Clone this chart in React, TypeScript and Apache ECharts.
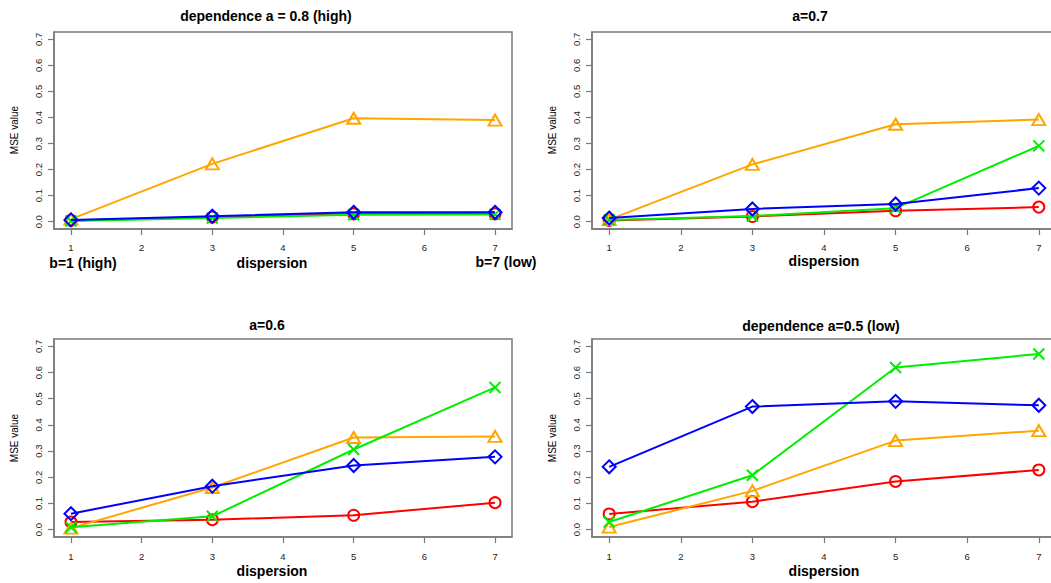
import React, { useEffect, useRef } from "react";
import * as echarts from "echarts";

const dispersion = [1, 3, 5, 7];
const xTicks = [1, 2, 3, 4, 5, 6, 7];
const yTicks = [0, 0.1, 0.2, 0.3, 0.4, 0.5, 0.6, 0.7];

const panelTitles = ["dependence a = 0.8 (high)", "a=0.7", "a=0.6", "dependence a=0.5 (low)"];

// a = 0.8
const redA08 = [0.005, 0.018, 0.030, 0.030];
const orangeA08 = [0.010, 0.222, 0.397, 0.390];
const greenA08 = [0.003, 0.014, 0.027, 0.028];
const blueA08 = [0.007, 0.021, 0.036, 0.036];
// a = 0.7
const redA07 = [0.005, 0.020, 0.042, 0.056];
const orangeA07 = [0.008, 0.220, 0.374, 0.392];
const greenA07 = [0.007, 0.022, 0.052, 0.291];
const blueA07 = [0.014, 0.049, 0.068, 0.129];
// a = 0.6
const redA06 = [0.029, 0.038, 0.055, 0.103];
const orangeA06 = [0.006, 0.161, 0.352, 0.356];
const greenA06 = [0.009, 0.051, 0.306, 0.543];
const blueA06 = [0.061, 0.166, 0.245, 0.278];
// a = 0.5
const redA05 = [0.060, 0.107, 0.184, 0.228];
const orangeA05 = [0.010, 0.148, 0.340, 0.378];
const greenA05 = [0.029, 0.208, 0.619, 0.671];
const blueA05 = [0.240, 0.470, 0.490, 0.475];

const panelData = [
  [redA08, orangeA08, greenA08, blueA08],
  [redA07, orangeA07, greenA07, blueA07],
  [redA06, orangeA06, greenA06, blueA06],
  [redA05, orangeA05, greenA05, blueA05],
];

const FONT = "'Liberation Sans', Arial, Helvetica, sans-serif";
const AXIS_COLOR = "#7a7a7a";

const seriesStyles = [
  { name: "red", color: "#FF0000", symbol: "circle", size: [11, 11] },
  { name: "orange", color: "#FFA500", symbol: "triangle", size: [13, 11] },
  { name: "green", color: "#00EE00", symbol: "path://M0,0L10,10M10,0L0,10", size: [11, 11] },
  { name: "blue", color: "#0000FF", symbol: "diamond", size: [13, 13] },
];

const grids: any[] = [
  { left: 54, top: 32, width: 458, height: 197 },
  { left: 592, top: 32, width: 464, height: 197 },
  { left: 54, top: 339, width: 458, height: 198 },
  { left: 592, top: 339, width: 464, height: 198 },
];

export default function App() {
  const ref = useRef<HTMLDivElement>(null);
  useEffect(() => {
    if (!ref.current) return;
    const chart = echarts.init(ref.current, null, { renderer: "svg" });

    const xAxes = grids.map((g, i) => ({
      gridIndex: i,
      type: "value",
      min: 0.76,
      max: 7.24,
      axisLine: { show: true, onZero: false, lineStyle: { color: AXIS_COLOR, width: 1.5 } },
      axisTick: { show: true, length: 6, customValues: xTicks, lineStyle: { color: AXIS_COLOR, width: 1.2 } },
      axisLabel: {
        customValues: xTicks,
        fontSize: 9.5,
        color: "#222",
        fontFamily: FONT,
        margin: i < 2 ? 13 : 14,
        formatter: (v: number) => String(Math.round(v)),
      },
      splitLine: { show: false },
    }));

    const yAxes = grids.map((g, i) => ({
      gridIndex: i,
      type: "value",
      min: -0.028,
      max: 0.728,
      axisLine: { show: true, onZero: false, lineStyle: { color: AXIS_COLOR, width: 1.5 } },
      axisTick: { show: true, length: 6, customValues: yTicks, lineStyle: { color: AXIS_COLOR, width: 1.2 } },
      axisLabel: {
        customValues: yTicks,
        rotate: 90,
        fontSize: 9.5,
        color: "#222",
        fontFamily: FONT,
        margin: 11,
        formatter: (v: number) => v.toFixed(1),
      },
      splitLine: { show: false },
    }));

    const series: any[] = [];
    panelData.forEach((panel, p) => {
      panel.forEach((vals, s) => {
        const st = seriesStyles[s];
        series.push({
          type: "line",
          name: st.name,
          xAxisIndex: p,
          yAxisIndex: p,
          data: dispersion.map((x, j) => [x, vals[j]]),
          symbol: st.symbol,
          symbolSize: st.size,
          showAllSymbol: true,
          lineStyle: { color: st.color, width: 2 },
          itemStyle: { color: "rgba(255,255,255,0)", borderColor: st.color, borderWidth: 2 },
          emphasis: { disabled: true },
          z: 2 + s,
        });
      });
    });

    const titlePos = [
      [266, 16],
      [810, 16],
      [267, 325],
      [821, 326],
    ];
    const dispPos = [
      [272, 263],
      [824, 261],
      [272, 571],
      [824, 571],
    ];
    const msePos = [
      [14, 130],
      [552, 130],
      [14, 438],
      [552, 438],
    ];

    const txt = (x: number, y: number, text: string, size: number, bold: boolean, rot = 0) => ({
      type: "text",
      x,
      y,
      rotation: rot,
      style: {
        text,
        fontSize: size,
        fontWeight: bold ? "bold" : "normal",
        fontFamily: FONT,
        fill: "#000",
        align: "center",
        verticalAlign: "middle",
        textAlign: "center",
        textVerticalAlign: "middle",
      },
    });

    const graphics: any[] = [];
    panelTitles.forEach((t, i) => graphics.push(txt(titlePos[i][0], titlePos[i][1], t, 14, true)));
    dispPos.forEach((p) => graphics.push(txt(p[0], p[1], "dispersion", 14, true)));
    msePos.forEach((p) => graphics.push(txt(p[0], p[1], "MSE value", 10, false, Math.PI / 2)));
    graphics.push(txt(83, 263, "b=1 (high)", 14, true));
    graphics.push(txt(506, 262, "b=7 (low)", 14, true));

    chart.setOption({
      animation: false,
      backgroundColor: "#fff",
      grid: grids.map((g) => ({
        ...g,
        show: true,
        borderColor: AXIS_COLOR,
        borderWidth: 1.5,
        backgroundColor: "transparent",
        containLabel: false,
      })),
      xAxis: xAxes,
      yAxis: yAxes,
      series,
      graphic: graphics,
    });
    return () => chart.dispose();
  }, []);
  return (
    <div
      style={{ position: "absolute", left: 0, top: 0, width: 1051, height: 583, overflow: "hidden", background: "#fff" }}
    >
      <div ref={ref} style={{ position: "absolute", left: 0, top: 0, width: 1066, height: 583 }} />
    </div>
  );
}
